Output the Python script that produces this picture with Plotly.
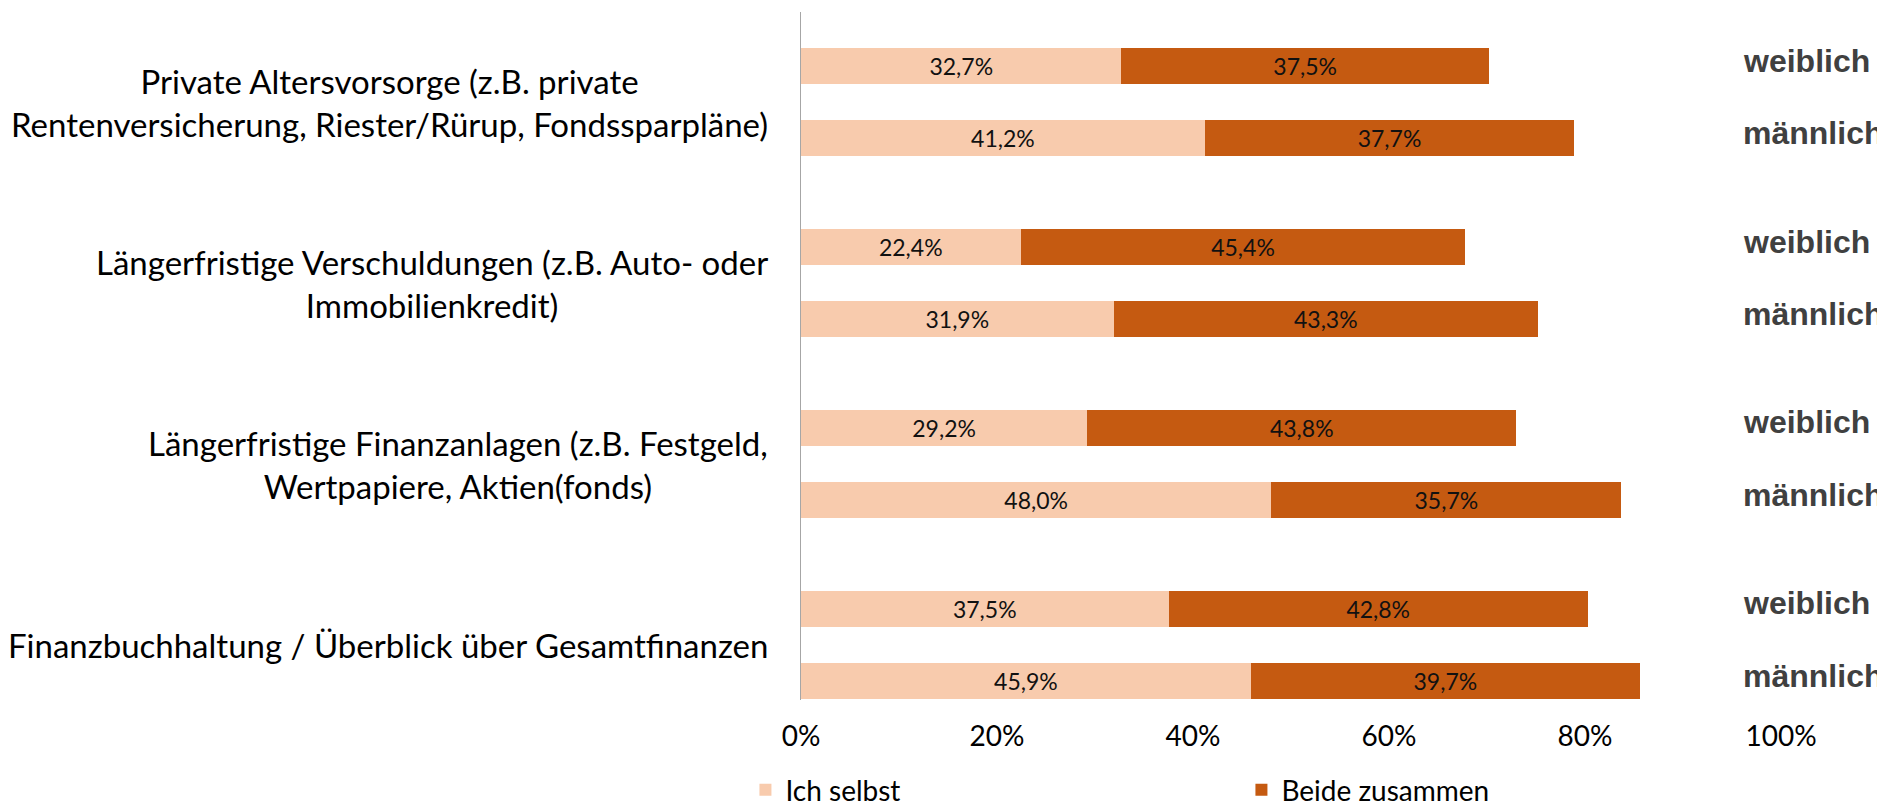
import plotly.graph_objects as go

categories = [
    "Private Altersvorsorge (z.B. private<br>Rentenversicherung, Riester/Rürup, Fondssparpläne)",
    "Längerfristige Verschuldungen (z.B. Auto- oder<br>Immobilienkredit)",
    "Längerfristige Finanzanlagen (z.B. Festgeld,<br>Wertpapiere, Aktien(fonds)",
    "Finanzbuchhaltung / Überblick über Gesamtfinanzen",
]
genders = ["weiblich", "männlich"]
series_names = ["Ich selbst", "Beide zusammen"]
ich_selbst_w = [32.7, 22.4, 29.2, 37.5]
ich_selbst_m = [41.2, 31.9, 48.0, 45.9]
beide_w = [37.5, 45.4, 43.8, 42.8]
beide_m = [37.7, 43.3, 35.7, 39.7]
tick_vals = [0, 20, 40, 60, 80, 100]
tick_text = ["0%", "20%", "40%", "60%", "80%", "100%"]

colors = ["#F8CBAD", "#C55A11"]

# y slots: weiblich at 5*i, männlich at 5*i+2
ypos, ich, beide = [], [], []
for i in range(len(categories)):
    ypos += [5 * i, 5 * i + 2]
    ich += [ich_selbst_w[i], ich_selbst_m[i]]
    beide += [beide_w[i], beide_m[i]]

fig = go.Figure()
for name, vals, col in zip(series_names, [ich, beide], colors):
    fig.add_trace(go.Bar(
        y=ypos, x=vals, orientation="h", name=name, width=1.0,
        marker=dict(color=col, line=dict(width=0)),
        text=vals, texttemplate="%{x:.1f}%", textposition="inside",
        insidetextanchor="middle", textangle=0, constraintext="none",
        textfont=dict(family="Lato", size=23, color="#111111"),
        hoverinfo="skip",
    ))

ann = []
for i, cat in enumerate(categories):
    ann.append(dict(
        x=-0.0316, xref="paper", y=5 * i + 1, yref="y",
        text=cat, showarrow=False, xanchor="right", yanchor="middle",
        align="center", font=dict(family="Lato", size=33, color="#000000"),
    ))
    for j, g in enumerate(genders):
        ann.append(dict(
            x=0.9587, xref="paper", y=5 * i + 2 * j - 0.15, yref="y",
            text="<b>" + g + "</b>", showarrow=False, xanchor="left",
            yanchor="middle",
            font=dict(family="Liberation Sans", size=32, color="#404040"),
        ))

fig.update_layout(
    width=1885, height=805,
    barmode="stack",
    separators=",.",
    paper_bgcolor="white", plot_bgcolor="white",
    margin=dict(l=793, r=112, t=4, b=113, autoexpand=False),
    showlegend=True,
    legend=dict(
        orientation="h", x=-0.0567, xanchor="left", y=-0.131, yanchor="middle",
        entrywidth=451, entrywidthmode="pixels",
        font=dict(family="Lato", size=28, color="#000000"),
        traceorder="normal",
    ),
    xaxis=dict(
        range=[0, 100], tickvals=tick_vals, ticktext=tick_text,
        showgrid=False, zeroline=False, showline=False,
        ticks="outside", ticklen=11, tickcolor="rgba(0,0,0,0)",
        tickfont=dict(family="Lato", size=28, color="#000000"),
    ),
    yaxis=dict(
        range=[17.52, -1.493], showticklabels=False, showgrid=False,
        zeroline=False, showline=True, linecolor="#A6A6A6", linewidth=1,
        ticks="",
    ),
    annotations=ann,
)

fig.write_html("out.html")
